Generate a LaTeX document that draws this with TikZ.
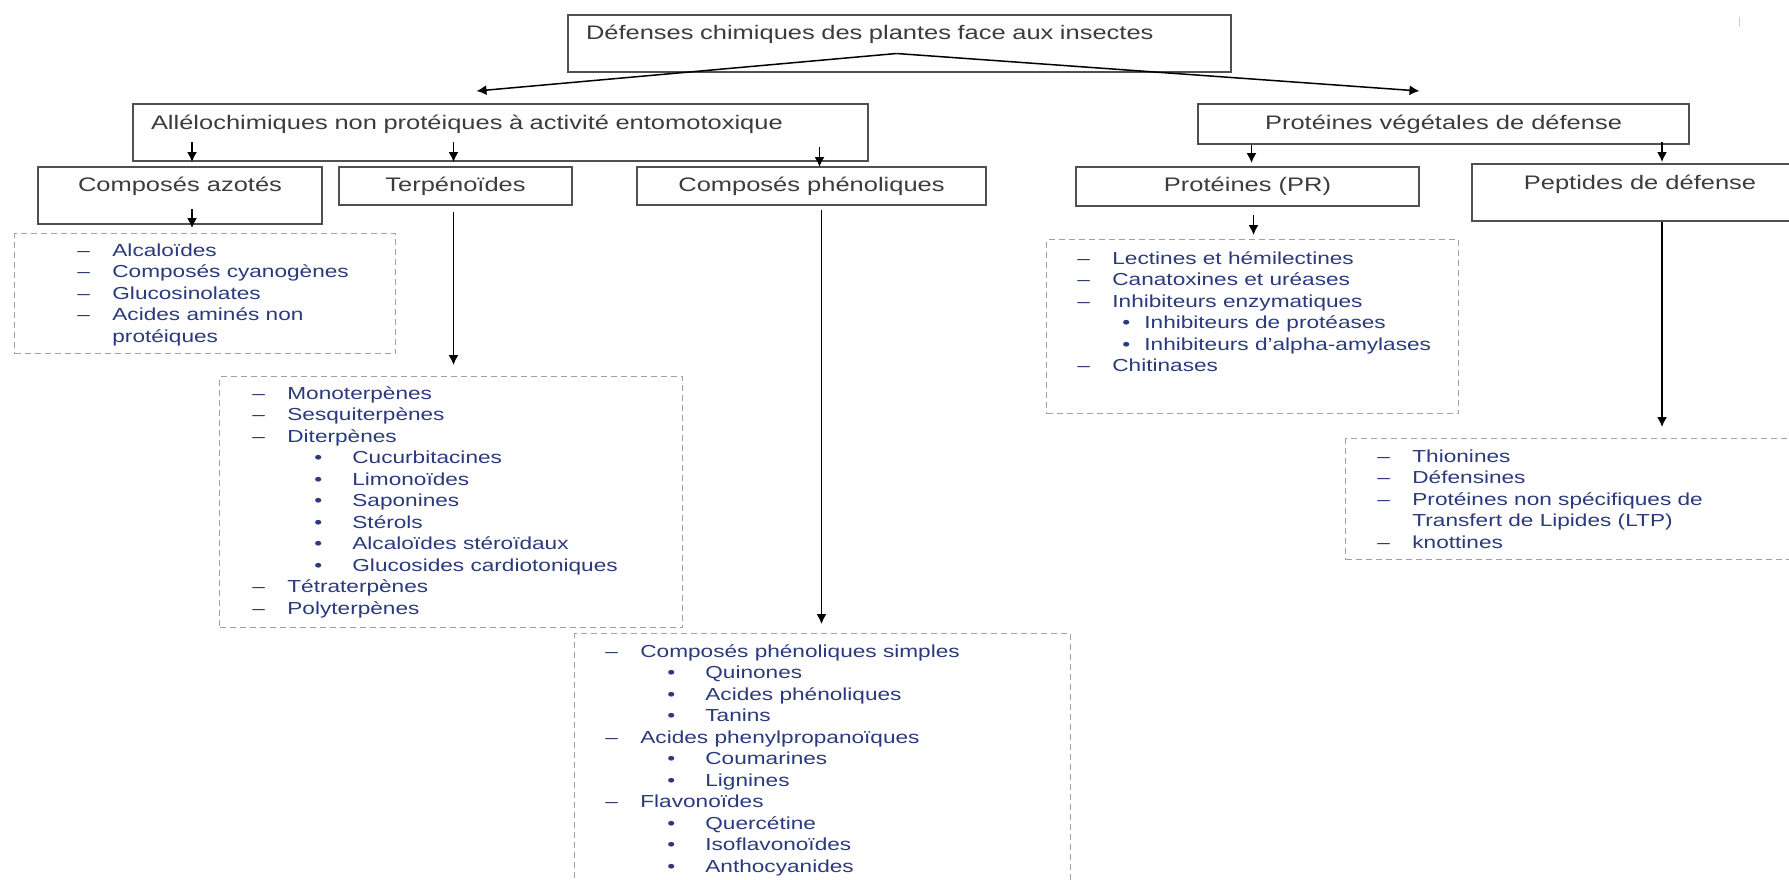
\documentclass[tikz,border=0pt]{standalone}
\usepackage{fontspec}
\setmainfont{Liberation Sans}[FakeStretch=1.3]
\usepackage{tikz}
\usetikzlibrary{arrows.meta,calc}
\definecolor{boxgray}{HTML}{505050}
\definecolor{textgray}{HTML}{3C3C3C}
\definecolor{listblue}{HTML}{2B3A7C}
\definecolor{dotgray}{HTML}{A0A0A0}

\newcommand{\tiret}[1]{\strut\makebox[17.5pt][l]{--}#1}
\newcommand{\suite}[1]{\strut\hspace*{17.5pt}#1}
\newcommand{\puce}[1]{\strut\hspace*{31pt}\makebox[19pt][l]{\textbullet}#1}
\newcommand{\petitepuce}[1]{\strut\hspace*{22.5pt}\makebox[11pt][l]{\textbullet}#1}

\begin{document}
\begin{tikzpicture}[x=0.5pt,y=-0.5pt,
  boite/.style={draw=boxgray,line width=1pt,inner sep=0pt,anchor=north west,
    text=textgray,font=\fontsize{9.8}{12}\selectfont},
  cadre/.style={draw=dotgray,densely dashed,line width=0.5pt,inner sep=0pt,anchor=north west},
  liste/.style={anchor=north west,inner sep=0pt,align=left,text=listblue,
    font=\fontsize{8.7}{10.75}\selectfont},
  fleche/.style={-{Latex[length=5pt,width=5pt]},line width=0.75pt,black}]
  \useasboundingbox (0,0) rectangle (1789,879);
  \clip (0,0) rectangle (1789,879);
  \fill[white] (0,0) rectangle (1789,879);
  \draw[gray!40,line width=0.5pt] (1739,17) -- (1739,27);

  % boites principales
  \node[boite,text width=313.5pt,inner xsep=9pt,align=left,text height=12pt,text depth=16.5pt]
    (defenses) at (567,14) {Défenses chimiques des plantes face aux insectes};
  \node[boite,text width=349.5pt,inner xsep=9pt,align=left,text height=12.5pt,text depth=16pt]
    (allelo) at (132,103) {Allélochimiques non protéiques à activité entomotoxique};
  \node[boite,minimum width=245.5pt,text height=12.5pt,text depth=7.5pt]
    (vegetal) at (1197,103) {Protéines végétales de défense};
  \node[boite,minimum width=142pt,text height=12pt,text depth=16.5pt]
    (azote) at (37,166) {Composés azotés};
  \node[boite,minimum width=116.5pt,text height=12pt,text depth=7pt]
    (terpe) at (338,166) {Terpénoïdes};
  \node[boite,minimum width=174.5pt,text height=12pt,text depth=7pt]
    (phenol) at (636,166) {Composés phénoliques};
  \node[boite,minimum width=171.5pt,text height=12pt,text depth=7.5pt]
    (pr) at (1075,166) {Protéines (PR)};
  \node[boite,minimum width=168pt,text height=12.5pt,text depth=16pt]
    (peptide) at (1471,163) {Peptides de défense};

  % cadres des listes
  \node[cadre,minimum width=190.5pt,minimum height=60pt] (lazote) at (14,233) {};
  \node[cadre,minimum width=231.5pt,minimum height=125.5pt] (lterpe) at (219,376) {};
  \node[cadre,minimum width=248pt,minimum height=150pt] (lphenol) at (574,633) {};
  \node[cadre,minimum width=206pt,minimum height=87pt] (lpr) at (1046,239) {};
  \node[cadre,minimum width=230pt,minimum height=60.5pt] (lpeptide) at (1345,438) {};

  \node[liste] (tazote) at ($(lazote.north west)+(63,8)$)
    {\tiret{Alcaloïdes}\\ \tiret{Composés cyanogènes}\\ \tiret{Glucosinolates}\\
     \tiret{Acides aminés non}\\ \suite{protéiques}};
  \node[liste] (tterpe) at ($(lterpe.north west)+(33,8)$)
    {\tiret{Monoterpènes}\\ \tiret{Sesquiterpènes}\\ \tiret{Diterpènes}\\
     \puce{Cucurbitacines}\\ \puce{Limonoïdes}\\ \puce{Saponines}\\ \puce{Stérols}\\
     \puce{Alcaloïdes stéroïdaux}\\ \puce{Glucosides cardiotoniques}\\
     \tiret{Tétraterpènes}\\ \tiret{Polyterpènes}};
  \node[liste] (tphenol) at ($(lphenol.north west)+(31,9)$)
    {\tiret{Composés phénoliques simples}\\ \puce{Quinones}\\ \puce{Acides phénoliques}\\
     \puce{Tanins}\\ \tiret{Acides phenylpropanoïques}\\ \puce{Coumarines}\\ \puce{Lignines}\\
     \tiret{Flavonoïdes}\\ \puce{Quercétine}\\ \puce{Isoflavonoïdes}\\ \puce{Anthocyanides}};
  \node[liste] (tpr) at ($(lpr.north west)+(31,10)$)
    {\tiret{Lectines et hémilectines}\\ \tiret{Canatoxines et uréases}\\
     \tiret{Inhibiteurs enzymatiques}\\ \petitepuce{Inhibiteurs de protéases}\\
     \petitepuce{Inhibiteurs d'alpha-amylases}\\ \tiret{Chitinases}};
  \node[liste] (tpeptide) at ($(lpeptide.north west)+(32,9)$)
    {\tiret{Thionines}\\ \tiret{Défensines}\\ \tiret{Protéines non spécifiques de}\\
     \suite{Transfert de Lipides (LTP)}\\ \tiret{knottines}};

  % fleches
  \draw[fleche] ($(defenses.center)+(-3,10)$) -- ($(allelo.north)+(-24,-12)$);
  \draw[fleche] ($(defenses.center)+(-3,10)$) -- ($(vegetal.north)+(-24,-12)$);
  \draw[fleche] ($(allelo.south -| azote.north)+(12,-20)$) -- ($(allelo.south -| azote.north)+(12,0)$);
  \draw[fleche] ($(allelo.south -| terpe.north)+(-2,-20)$) -- ($(allelo.south -| terpe.north)+(-2,0)$);
  \draw[fleche] ($(allelo.south -| phenol.north)+(8,-15)$) -- ($(allelo.south -| phenol.north)+(8,5)$);
  \draw[fleche] ($(vegetal.south -| pr.north)+(4,0)$) -- ($(pr.north)+(4,-3)$);
  \draw[fleche] ($(vegetal.south -| peptide.north)+(22,-3)$) -- ($(peptide.north)+(22,-1)$);
  \draw[fleche] ($(azote.south)+(12,-16)$) -- ($(lazote.north -| azote.south)+(12,-5)$);
  \draw[fleche] ($(terpe.south)+(-2,6)$) -- ($(lterpe.north -| terpe.south)+(-2,-11)$);
  \draw[fleche] ($(phenol.south)+(10,4)$) -- ($(lphenol.north -| phenol.south)+(10,-9)$);
  \draw[fleche] ($(pr.south)+(6,8)$) -- ($(lpr.north -| pr.south)+(6,-4)$);
  \draw[fleche] ($(peptide.south)+(22,0)$) -- ($(lpeptide.north -| peptide.south)+(22,-11)$);
\end{tikzpicture}
\end{document}
